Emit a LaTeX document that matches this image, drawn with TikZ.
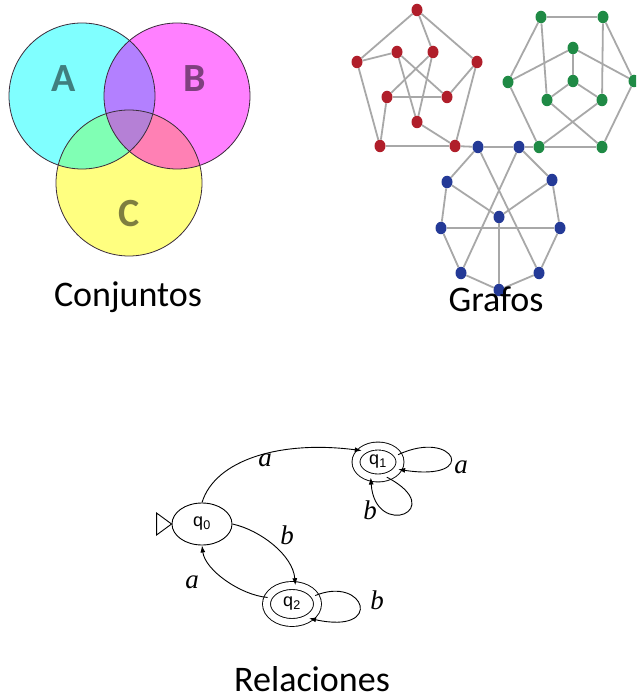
\documentclass[tikz,border=0pt]{standalone}
\usepackage{fontspec}
\setmainfont{Carlito}
\newfontfamily\statefont{Liberation Sans}
\newfontfamily\symfont{Liberation Serif}
\usetikzlibrary{arrows.meta,shapes.geometric}

% set colours
\definecolor{setA}{HTML}{80FFFF}
\definecolor{setB}{HTML}{FF80FF}
\definecolor{setC}{HTML}{FFFF80}
\definecolor{setAB}{HTML}{B380FF}
\definecolor{setAC}{HTML}{80FFB4}
\definecolor{setBC}{HTML}{FF80B4}
\definecolor{setABC}{HTML}{B580D6}
\definecolor{letA}{HTML}{407F7F}
\definecolor{letB}{HTML}{7F407F}
\definecolor{letC}{HTML}{7F7F40}
\definecolor{vennline}{HTML}{3A2A3A}
% graph colours
\definecolor{gred}{HTML}{B01E2A}
\definecolor{ggreen}{HTML}{1F8A45}
\definecolor{gblue}{HTML}{243A97}
\definecolor{gedge}{HTML}{A8A8A8}

\begin{document}
\begin{tikzpicture}[x=1pt,y=-1pt,
  vline/.style={draw=vennline,line width=0.8pt},
  setletter/.style={font=\fontsize{40}{40}\selectfont\bfseries},
  caption/.style={font=\fontsize{36}{40}\selectfont,anchor=base,inner sep=0pt},
  gv/.style={ellipse,minimum width=11pt,minimum height=12.5pt,inner sep=0pt},
  rv/.style={gv,fill=gred},
  gnv/.style={gv,fill=ggreen},
  bv/.style={gv,fill=gblue},
  ge/.style={draw=gedge,line width=1.8pt},
  stnode/.style={ellipse,draw,line width=0.9pt,inner sep=0pt,
    font=\statefont\fontsize{18}{18}\selectfont},
  accept/.style={stnode,double,double distance=7pt},
  arr/.style={draw,line width=0.9pt,-{Latex[length=7pt,width=5pt]}},
  sym/.style={font=\symfont\itshape\fontsize{27}{27}\selectfont,inner sep=0pt}
]
\clip (0,0) rectangle (636,700);
\fill[white] (0,0) rectangle (636,700);

% ---------- Venn diagram ----------
\fill[setA] (82,96) circle[radius=73pt];
\fill[setB] (177,96) circle[radius=73pt];
\fill[setC] (129,183) circle[radius=73pt];
\begin{scope}
  \clip (177,96) circle[radius=73pt];
  \fill[setBC] (129,183) circle[radius=73pt];
\end{scope}
\begin{scope}
  \clip (82,96) circle[radius=73pt];
  \fill[setAB] (177,96) circle[radius=73pt];
  \fill[setAC] (129,183) circle[radius=73pt];
  \clip (177,96) circle[radius=73pt];
  \fill[setABC] (129,183) circle[radius=73pt];
\end{scope}
\draw[vline] (82,96) circle[radius=73pt];
\draw[vline] (177,96) circle[radius=73pt];
\draw[vline] (129,183) circle[radius=73pt];
\node[setletter,text=letA] (setA) at (64,79) {A};
\node[setletter,text=letB] (setB) at (195,79) {B};
\node[setletter,text=letC] (setC) at (129,214) {C};
\node[caption] (lblConj) at (128,306) {Conjuntos};

% ---------- Graphs ----------
% red Petersen graph
\node[rv] (r1) at (417,10) {};
\node[rv] (r2) at (357,62) {};
\node[rv] (r3) at (477,62) {};
\node[rv] (r4) at (380,146) {};
\node[rv] (r5) at (455,146) {};
\node[rv] (r6) at (397,52) {};
\node[rv] (r7) at (433,52) {};
\node[rv] (r8) at (387,97) {};
\node[rv] (r9) at (447,97) {};
\node[rv] (r10) at (417,122) {};
% green Petersen graph
\node[gnv] (g1) at (541,17) {};
\node[gnv] (g2) at (603,17) {};
\node[gnv] (g3) at (573,48) {};
\node[gnv] (g4) at (508,82) {};
\node[gnv] (g5) at (634,81) {};
\node[gnv] (g6) at (573,81) {};
\node[gnv] (g7) at (547,100) {};
\node[gnv] (g8) at (602,100) {};
\node[gnv] (g9) at (539,147) {};
\node[gnv] (g10) at (602,147) {};
% blue Petersen graph
\node[bv] (b1) at (478,147) {};
\node[bv] (b2) at (519,147) {};
\node[bv] (b3) at (447,182) {};
\node[bv] (b4) at (552,180) {};
\node[bv] (b5) at (499,217) {};
\node[bv] (b6) at (441,228) {};
\node[bv] (b7) at (560,228) {};
\node[bv] (b8) at (461,273) {};
\node[bv] (b9) at (539,273) {};
\node[bv] (b10) at (499,290) {};

\foreach \u/\v in {r1/r2,r1/r3,r2/r4,r3/r5,r4/r5,r1/r7,r2/r6,r3/r9,r4/r8,r5/r10,
                   r6/r9,r6/r10,r7/r8,r7/r10,r8/r9,
                   g1/g2,g1/g4,g2/g5,g1/g7,g2/g8,g3/g4,g3/g5,g3/g6,g6/g7,g6/g8,
                   g4/g9,g5/g10,g7/g10,g8/g9,g9/g10,
                   b1/b2,b1/b3,b2/b4,b1/b9,b2/b8,b3/b5,b4/b5,b5/b10,b6/b7,
                   b3/b6,b4/b7,b6/b8,b7/b9,b8/b10,b9/b10,
                   r5/b1,b2/g9}
  \draw[ge] (\u) -- (\v);
\node[caption] (lblGraf) at (496,311) {Grafos};

% ---------- Automaton ----------
\node[stnode,minimum width=60pt,minimum height=42pt] (q0) at (202,524) {q\textsubscript{0}};
\node[accept,minimum width=44pt,minimum height=32pt] (q1) at (378,462) {q\textsubscript{1}};
\node[accept,minimum width=51pt,minimum height=37pt] (q2) at (292,604) {q\textsubscript{2}};
% initial-state marker
\draw[line width=0.9pt] ([xshift=-15pt,yshift=11pt]q0.west) -- (q0.west)
  -- ([xshift=-15pt,yshift=-11pt]q0.west) -- cycle;

\draw[arr] (q0.north) .. controls (215,460) and (280,440) .. (q1.145);
\draw[arr] (q1.20) .. controls (455,428) and (480,482) .. (q1.-20);
\draw[arr] (q1.-60) .. controls (450,510) and (375,540) .. (q1.-115);
\draw[arr] (q0.east) .. controls (260,530) and (293,555) .. (q2.80);
\draw[arr] (q2.165) .. controls (240,595) and (205,570) .. (q0.south);
\draw[arr] (q2.20) .. controls (365,575) and (385,635) .. (q2.-40);

\node[sym] (la1) at (265,460) {a};
\node[sym] (la2) at (461,467) {a};
\node[sym] (lb1) at (370,510) {b};
\node[sym] (lb2) at (287,535) {b};
\node[sym] (la3) at (192,582) {a};
\node[sym] (lb3) at (377,600) {b};

\node[caption] (lblRel) at (312,691) {Relaciones};
\end{tikzpicture}
\end{document}
